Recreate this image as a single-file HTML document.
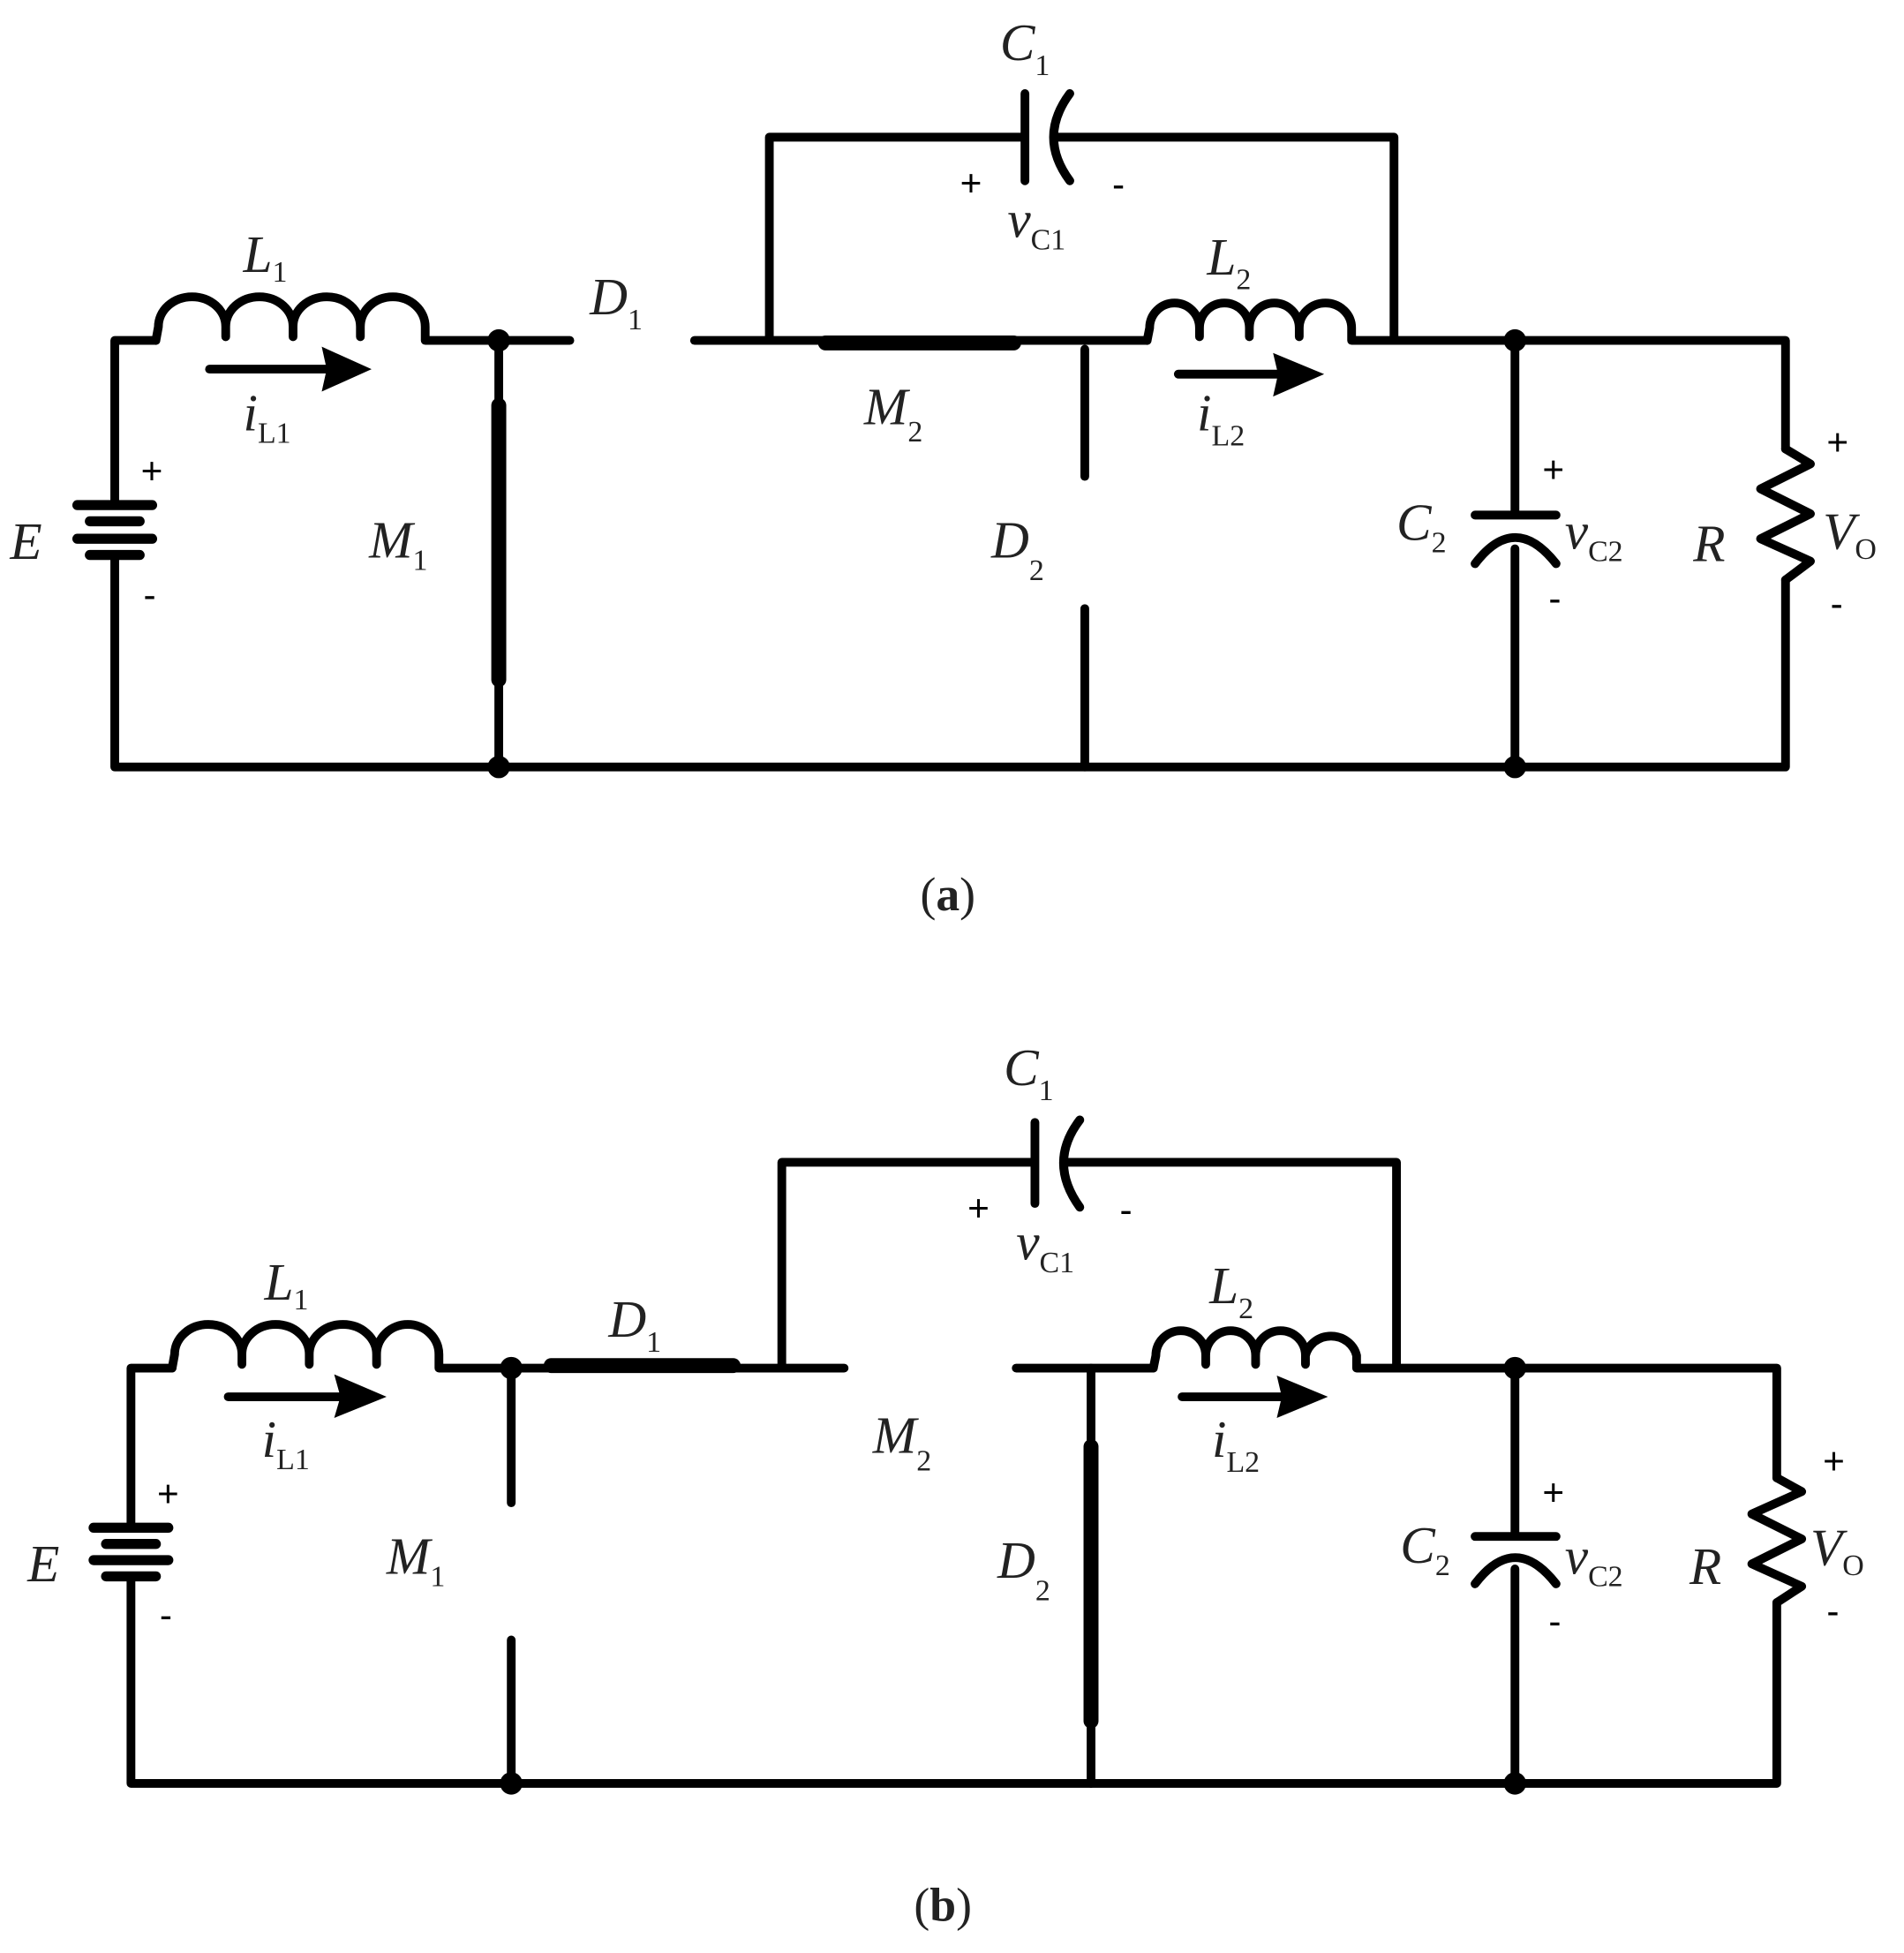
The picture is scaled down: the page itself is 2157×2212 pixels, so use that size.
<!DOCTYPE html>
<html><head><meta charset="utf-8"><style>
html,body{margin:0;padding:0;background:#fff;}
svg{display:block;}
.w{stroke:#000;stroke-width:7;fill:none;stroke-linecap:round;stroke-linejoin:round;}
.t{stroke:#000;stroke-width:12;fill:none;stroke-linecap:round;}
text{font-family:"Liberation Serif",serif;fill:#222;}
.lb{font-style:italic;font-size:42px;}
.sb{font-size:24px;font-style:normal;}
.pm{font-family:"Liberation Sans",sans-serif;font-size:30px;fill:#000;}
</style></head><body>
<svg width="2157" height="2212" viewBox="0 0 1527 1566" xmlns="http://www.w3.org/2000/svg">
<rect width="1527" height="1566" fill="#fff"/>

<!-- ===== Panel (a) ===== -->
<g>
<!-- left wire & battery -->
<path class="w" d="M92,405 V273 H125"/>
<path class="w" d="M92,447 V615 H1432 V465"/>
<path class="w" d="M62,405 H122 M72,418 H112 M62,432 H122 M72,445 H112" style="stroke-width:8"/>
<!-- L1 -->
<path class="w" d="M125,273 L127,262 A27,24 0 0 1 181,262 L181,270 M181,262 A27,24 0 0 1 235,262 L235,270 M235,262 A27,24 0 0 1 289,262 L289,270 M289,262 A26,24 0 0 1 341,262 L341,273 H457"/>
<!-- arrow iL1 -->
<path class="w" d="M168,296 H262"/>
<polygon points="258,278 298,296 258,314 262,296" fill="#000"/>
<!-- M1 -->
<path class="w" d="M400,273 V615"/>
<path class="t" d="M400,325 V545"/>
<circle cx="400" cy="273" r="9"/><circle cx="400" cy="615" r="9"/>
<!-- D1 gap right side, M2 -->
<path class="w" d="M557,273 H920"/>
<path class="t" d="M662,275 H813"/>
<!-- C1 loop -->
<path class="w" d="M617,273 V110 H820 M822,75 V145"/>
<path class="w" d="M858,75 Q832,110 858,145"/>
<path class="w" d="M848,110 H1118 V273"/>
<!-- L2 -->
<path class="w" d="M920,273 L922,263 A20,20 0 0 1 962,263 L962,270 M962,263 A20,20 0 0 1 1002,263 L1002,270 M1002,263 A20,20 0 0 1 1042,263 L1042,270 M1042,263 A21,20 0 0 1 1084,263 L1084,273 H1432 V360"/>
<path class="w" d="M945,300 H1025"/>
<polygon points="1021,283 1062,300 1021,318 1025,300" fill="#000"/>
<!-- D2 -->
<path class="w" d="M870,280 V382 M870,488 V615"/>
<!-- C2 -->
<path class="w" d="M1215,273 V413 M1183,413 H1248 M1215,440 V615"/>
<path class="w" d="M1183,452 Q1215,410 1248,452"/>
<circle cx="1215" cy="273" r="9"/><circle cx="1215" cy="615" r="9"/>
<!-- R -->
<path class="w" d="M1432,360 L1452,372 L1412,392 L1452,412 L1412,432 L1452,450 L1432,465"/>
<!-- labels -->
<text class="lb" x="195" y="218">L<tspan class="sb" dy="8">1</tspan></text>
<text class="lb" x="195" y="345">i<tspan class="sb" dy="10">L1</tspan></text>
<text class="lb" x="8" y="448">E</text>
<text class="pm" x="113" y="388">+</text>
<text class="pm" x="115" y="487">-</text>
<text class="lb" x="296" y="447">M<tspan class="sb" dy="10">1</tspan></text>
<text class="lb" x="473" y="252">D<tspan class="sb" dy="12">1</tspan></text>
<text class="lb" x="693" y="340">M<tspan class="sb" dy="14">2</tspan></text>
<text class="lb" x="802" y="48">C<tspan class="sb" dy="12">1</tspan></text>
<text class="pm" x="770" y="157">+</text>
<text class="pm" x="892" y="158">-</text>
<text class="lb" x="808" y="190">v<tspan class="sb" dy="10">C1</tspan></text>
<text class="lb" x="968" y="220">L<tspan class="sb" dy="12">2</tspan></text>
<text class="lb" x="960" y="345">i<tspan class="sb" dy="12">L2</tspan></text>
<text class="lb" x="795" y="447">D<tspan class="sb" dy="18">2</tspan></text>
<text class="pm" x="1237" y="387">+</text>
<text class="lb" x="1120" y="433">C<tspan class="sb" dy="10">2</tspan></text>
<text class="lb" x="1255" y="440">v<tspan class="sb" dy="10">C2</tspan></text>
<text class="pm" x="1242" y="490">-</text>
<text class="lb" x="1358" y="450">R</text>
<text class="pm" x="1465" y="365">+</text>
<text class="lb" x="1462" y="440">V<tspan class="sb" dy="8">O</tspan></text>
<text class="pm" x="1468" y="494">-</text>
<text x="738" y="730" style="font-size:38px;">(<tspan font-weight="bold">a</tspan>)</text>
</g>

<!-- ===== Panel (b) ===== -->
<g>
<path class="w" d="M105,1225 V1097 H138"/>
<path class="w" d="M105,1265 V1430 H1425 V1285"/>
<path class="w" d="M75,1225 H135 M85,1238 H125 M75,1251 H135 M85,1264 H125" style="stroke-width:8"/>
<path class="w" d="M138,1097 L140,1086 A27,24 0 0 1 194,1086 L194,1094 M194,1086 A27,24 0 0 1 248,1086 L248,1094 M248,1086 A27,24 0 0 1 302,1086 L302,1094 M302,1086 A25,24 0 0 1 352,1086 L352,1097 H677"/>
<path class="w" d="M183,1120 H273"/>
<polygon points="268,1102 310,1120 268,1137 273,1120" fill="#000"/>
<!-- D1 thick -->
<path class="t" d="M442,1095 H588"/>
<!-- M1 -->
<path class="w" d="M410,1097 V1205 M410,1315 V1430"/>
<circle cx="410" cy="1097" r="9"/><circle cx="410" cy="1430" r="9"/>
<!-- C1 loop -->
<path class="w" d="M627,1097 V932 H828 M830,900 V965"/>
<path class="w" d="M866,898 Q840,932 866,968"/>
<path class="w" d="M855,932 H1120 V1097"/>
<!-- right of M2 gap -->
<path class="w" d="M815,1097 H925"/>
<path class="w" d="M925,1097 L927,1087 A20,20 0 0 1 967,1087 L967,1094 M967,1087 A20,20 0 0 1 1007,1087 L1007,1094 M1007,1087 A20,20 0 0 1 1047,1087 L1047,1094 M1047,1087 A21,20 0 0 1 1088,1087 L1088,1097 H1425 V1185"/>
<path class="w" d="M948,1120 H1028"/>
<polygon points="1024,1103 1065,1120 1024,1137 1028,1120" fill="#000"/>
<!-- D2 -->
<path class="w" d="M875,1097 V1430"/>
<path class="t" d="M875,1160 V1380"/>
<!-- C2 -->
<path class="w" d="M1215,1097 V1232 M1183,1232 H1248 M1215,1258 V1430"/>
<path class="w" d="M1183,1270 Q1215,1228 1248,1270"/>
<circle cx="1215" cy="1097" r="9"/><circle cx="1215" cy="1430" r="9"/>
<!-- R -->
<path class="w" d="M1425,1185 L1445,1196 L1405,1214 L1445,1234 L1405,1254 L1445,1272 L1425,1285"/>
<!-- labels -->
<text class="lb" x="212" y="1042">L<tspan class="sb" dy="8">1</tspan></text>
<text class="lb" x="210" y="1168">i<tspan class="sb" dy="10">L1</tspan></text>
<text class="lb" x="22" y="1268">E</text>
<text class="pm" x="126" y="1208">+</text>
<text class="pm" x="128" y="1305">-</text>
<text class="lb" x="310" y="1262">M<tspan class="sb" dy="10">1</tspan></text>
<text class="lb" x="488" y="1072">D<tspan class="sb" dy="12">1</tspan></text>
<text class="lb" x="700" y="1165">M<tspan class="sb" dy="14">2</tspan></text>
<text class="lb" x="805" y="870">C<tspan class="sb" dy="12">1</tspan></text>
<text class="pm" x="776" y="979">+</text>
<text class="pm" x="898" y="980">-</text>
<text class="lb" x="815" y="1010">v<tspan class="sb" dy="10">C1</tspan></text>
<text class="lb" x="970" y="1045">L<tspan class="sb" dy="12">2</tspan></text>
<text class="lb" x="972" y="1168">i<tspan class="sb" dy="12">L2</tspan></text>
<text class="lb" x="800" y="1265">D<tspan class="sb" dy="18">2</tspan></text>
<text class="pm" x="1237" y="1207">+</text>
<text class="lb" x="1123" y="1253">C<tspan class="sb" dy="10">2</tspan></text>
<text class="lb" x="1255" y="1262">v<tspan class="sb" dy="10">C2</tspan></text>
<text class="pm" x="1242" y="1310">-</text>
<text class="lb" x="1355" y="1270">R</text>
<text class="pm" x="1462" y="1182">+</text>
<text class="lb" x="1452" y="1255">V<tspan class="sb" dy="8">O</tspan></text>
<text class="pm" x="1465" y="1302">-</text>
<text x="733" y="1540" style="font-size:38px;">(<tspan font-weight="bold">b</tspan>)</text>
</g>
</svg>
</body></html>
